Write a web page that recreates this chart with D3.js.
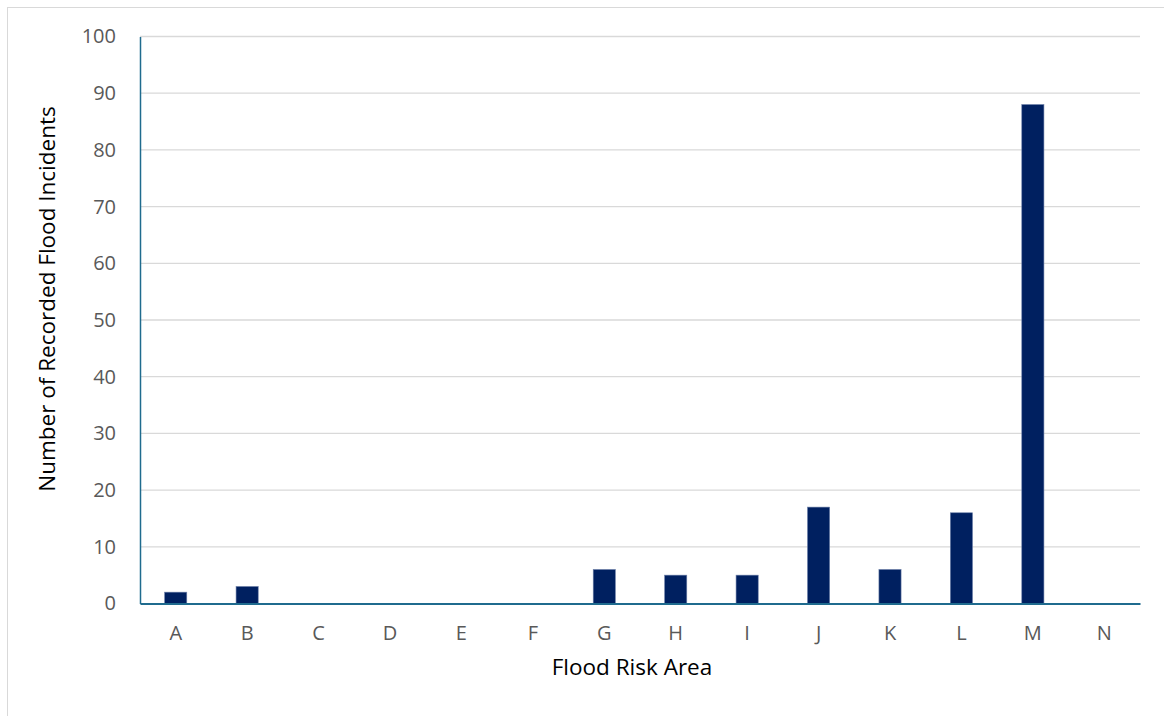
<!DOCTYPE html>
<html><head><meta charset="utf-8">
<script src="https://cdn.jsdelivr.net/npm/d3@7"></script>
<style>body{margin:0;background:#fff;} text{font-family:"Open Sans","Liberation Sans",sans-serif;}</style>
</head><body>
<svg id="c" width="1164" height="716"></svg>
<script>
const categories = ["A","B","C","D","E","F","G","H","I","J","K","L","M","N"];
const incidents = [2,3,0,0,0,0,6,5,5,17,6,16,88,0];
const yTicks = [0,10,20,30,40,50,60,70,80,90,100];
const xTitle = "Flood Risk Area";
const yTitle = "Number of Recorded Flood Incidents";

const svg = d3.select("#c");
svg.append("rect").attr("x",7.5).attr("y",7.5).attr("width",1170).attr("height",720)
  .attr("fill","#fff").attr("stroke","#d9d9d9");

const L=140, R=1140, T=36.5, B=603.5;
const x = d3.scaleBand().domain(categories).range([L,R]).paddingInner(0.69).paddingOuter(0.345);
const y = d3.scaleLinear().domain([0,100]).range([B,T]);

// grid
svg.append("g").selectAll("line").data(yTicks.filter(d=>d>0)).join("line")
  .attr("x1",L).attr("x2",R).attr("y1",d=>y(d)).attr("y2",d=>y(d))
  .attr("stroke","#d9d9d9").attr("stroke-width",1.3);

// bars
svg.append("g").selectAll("rect").data(categories.map((c,i)=>({c,v:incidents[i]})).filter(d=>d.v>0)).join("rect")
  .attr("x",d=>x(d.c)).attr("width",x.bandwidth())
  .attr("y",d=>y(d.v)).attr("height",d=>B-y(d.v))
  .attr("fill","#002060").attr("stroke","#6b7fa8").attr("stroke-width",0.6);

// axes
const yAxis = svg.append("g").attr("transform",`translate(${L},0)`)
  .call(d3.axisLeft(y).tickValues(yTicks).tickSize(0).tickPadding(24));
yAxis.select(".domain").attr("stroke","#1f6b8e").attr("stroke-width",1.5);
yAxis.selectAll("text").attr("fill","#595959").style("font-size","20px");

const xAxis = svg.append("g").attr("transform",`translate(0,${B})`)
  .call(d3.axisBottom(x).tickSize(0).tickPadding(22));
xAxis.select(".domain").attr("stroke","#1f6b8e").attr("stroke-width",2);
xAxis.selectAll("text").attr("fill","#595959").style("font-size","20px");

svg.append("text").attr("x",632).attr("y",675).attr("text-anchor","middle")
  .attr("fill","#000").style("font-size","22.5px").text(xTitle);
svg.append("text").attr("transform",`translate(55,299) rotate(-90)`).attr("text-anchor","middle")
  .attr("fill","#000").style("font-size","22.5px").text(yTitle);
</script>
</body></html>
